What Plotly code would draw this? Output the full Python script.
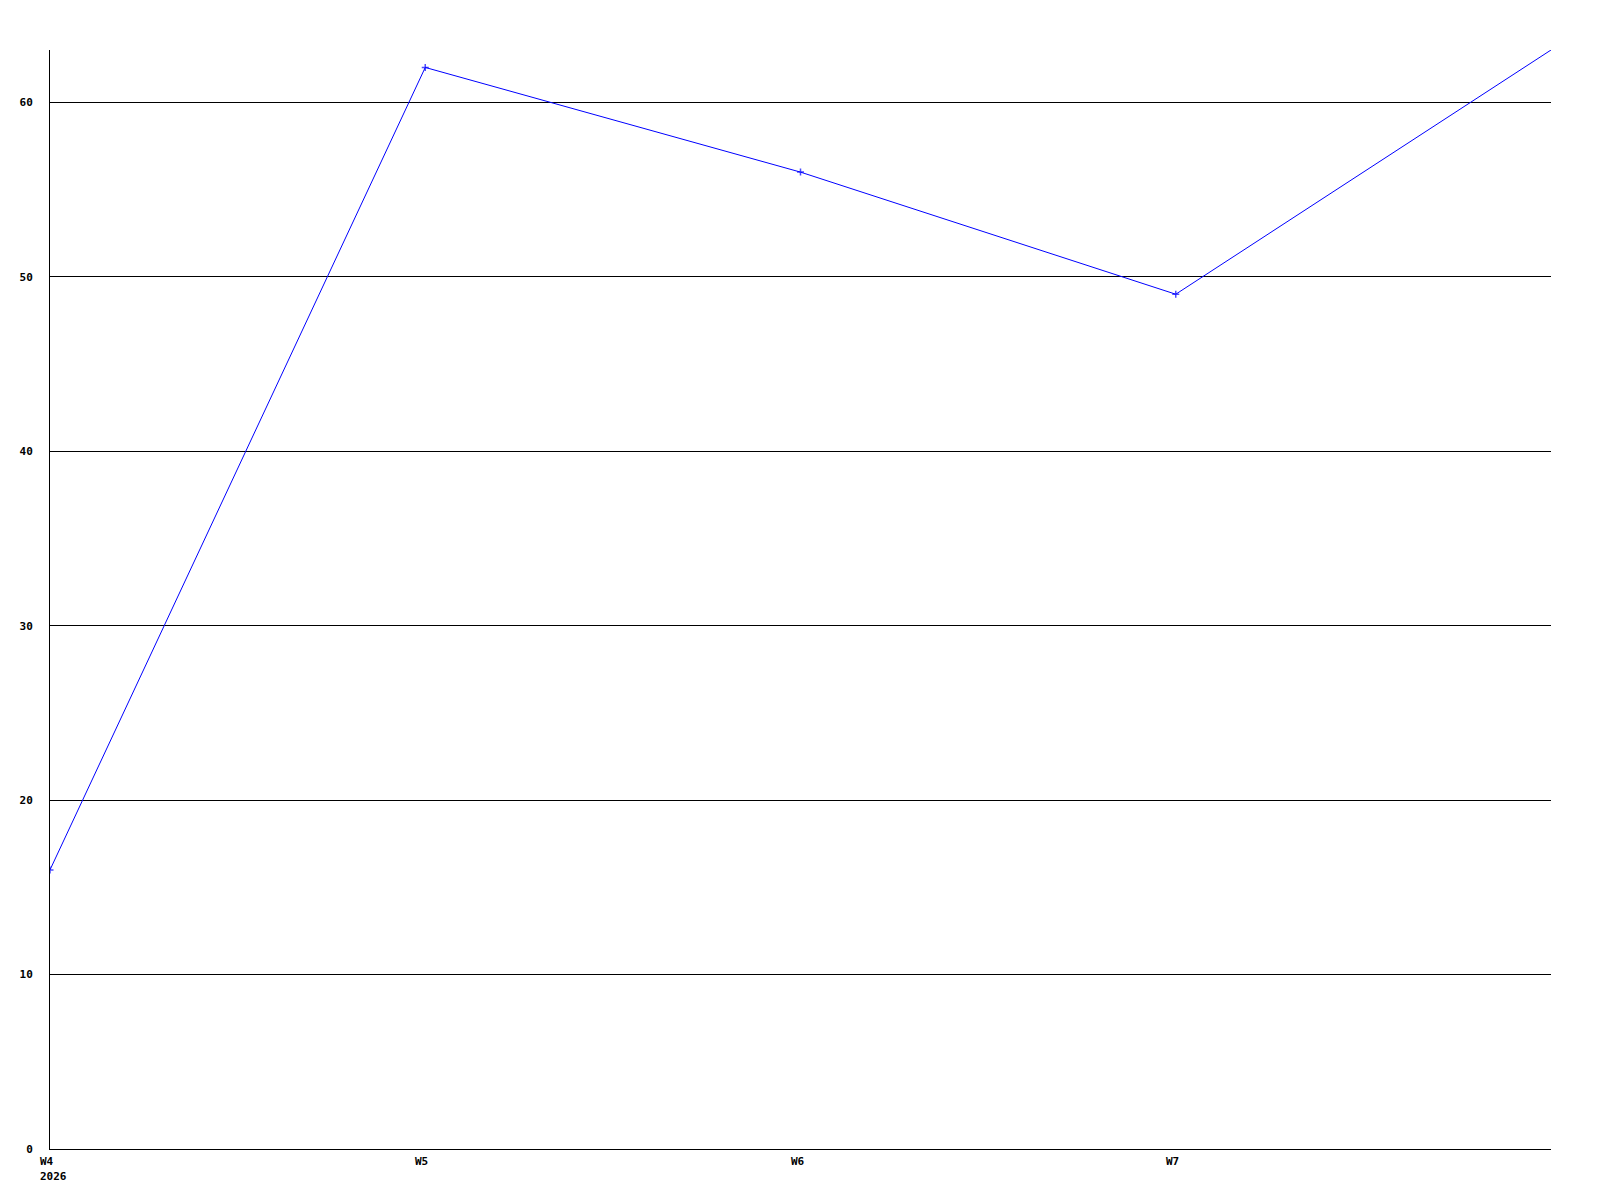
import plotly.graph_objects as go

weeks = ["W4", "W5", "W6", "W7", "W8"]
values = [16, 62, 56, 49, 63]
label_weeks = ["W4", "W5", "W6", "W7"]
year_label = "2026"
y_ticks = [0, 10, 20, 30, 40, 50, 60]

marker_sizes = [5] * (len(weeks) - 1) + [0]

fig = go.Figure()
fig.add_trace(go.Scatter(
    x=weeks, y=values, mode="lines+markers",
    line=dict(color="#0000ff", width=1),
    marker=dict(symbol="cross-thin", size=marker_sizes, color="#0000ff",
                line=dict(color="#0000ff", width=1.5)),
    cliponaxis=True,
))

font = dict(family="DejaVu Sans Mono", size=11, color="black", weight="bold")

annotations = []
for w in label_weeks:
    annotations.append(dict(
        x=w, xref="x", y=0, yref="paper", text=w, showarrow=False,
        xanchor="left", yanchor="middle", xshift=-11, yshift=-12.5,
        font=font, borderpad=0,
    ))
annotations.append(dict(
    x=label_weeks[0], xref="x", y=0, yref="paper", text=year_label,
    showarrow=False, xanchor="left", yanchor="middle", xshift=-11,
    yshift=-27.5, font=font, borderpad=0,
))

fig.update_layout(
    width=1600, height=1200,
    margin=dict(l=42, r=57, t=42, b=59, autoexpand=False),
    paper_bgcolor="white", plot_bgcolor="white",
    showlegend=False,
    annotations=annotations,
    xaxis=dict(
        type="category", range=[0, 4],
        showticklabels=False,
        showgrid=False, zeroline=False,
        showline=True, linecolor="black", linewidth=1,
        ticks="",
    ),
    yaxis=dict(
        range=[0, 63], tickvals=y_ticks,
        showgrid=True, gridcolor="black", gridwidth=1,
        zeroline=False,
        showline=True, linecolor="black", linewidth=1,
        ticks="", tickfont=font, ticklabelstandoff=14,
    ),
)

fig.write_html("out.html")
